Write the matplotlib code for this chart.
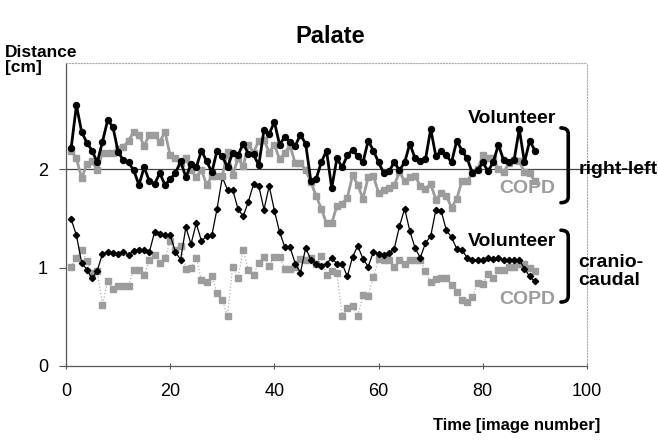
import matplotlib
matplotlib.use("Agg")
import matplotlib.pyplot as plt
import numpy as np
from matplotlib.path import Path
from matplotlib.patches import PathPatch

plt.rcParams['font.family'] = ['Liberation Sans', 'DejaVu Sans']

# image number 1..90
frames = list(range(1, 91))

vol_rl = [2.22, 2.65, 2.38, 2.27, 2.19, 2.07, 2.28, 2.50, 2.43, 2.18,
          2.09, 2.07, 1.99, 1.84, 2.02, 1.88, 1.85, 1.96, 1.84, 1.90,
          1.96, 2.08, 1.92, 2.05, 2.02, 2.19, 2.08, 1.97, 2.19, 2.13,
          2.02, 2.17, 2.14, 2.26, 2.16, 2.15, 2.04, 2.40, 2.36, 2.48,
          2.25, 2.33, 2.28, 2.24, 2.35, 2.26, 1.88, 1.90, 2.07, 2.19,
          1.81, 2.11, 2.02, 2.14, 2.20, 2.13, 2.07, 2.29, 2.19, 2.07,
          1.96, 1.98, 2.07, 1.99, 2.07, 2.26, 2.11, 2.08, 2.10, 2.41,
          2.13, 2.19, 2.14, 2.07, 2.29, 2.19, 2.11, 1.96, 1.99, 2.07,
          1.98, 2.07, 2.25, 2.09, 2.07, 2.09, 2.41, 2.07, 2.29, 2.19]

copd_rl = [2.19, 2.11, 1.91, 2.05, 2.08, 1.99, 2.17, 2.17, 2.17, 2.21,
           2.23, 2.29, 2.38, 2.35, 2.24, 2.35, 2.35, 2.28, 2.38, 2.14,
           2.11, 2.06, 2.11, 1.99, 1.92, 1.99, 1.84, 1.93, 1.93, 1.93,
           2.18, 1.94, 2.11, 2.03, 2.25, 2.17, 2.29, 2.30, 2.17, 2.25,
           2.10, 2.17, 2.24, 2.06, 2.06, 1.99, 1.87, 1.73, 1.60, 1.45,
           1.45, 1.63, 1.65, 1.71, 1.94, 1.84, 1.70, 1.92, 1.93, 1.76,
           1.79, 1.81, 1.84, 1.97, 1.88, 1.92, 1.93, 1.83, 1.80, 1.85,
           1.69, 1.76, 1.73, 1.61, 1.70, 1.88, 1.88, 1.96, 2.00, 2.14,
           2.11, 2.11, 2.00, 1.97, 2.06, 2.09, 2.08, 1.97, 1.96, 1.88]

vol_cc = [1.49, 1.33, 1.05, 0.98, 0.89, 0.97, 1.14, 1.16, 1.15, 1.14,
          1.16, 1.13, 1.17, 1.18, 1.18, 1.16, 1.36, 1.34, 1.33, 1.33,
          1.16, 1.08, 1.41, 1.24, 1.45, 1.27, 1.32, 1.33, 1.60, 1.92,
          1.79, 1.79, 1.60, 1.52, 1.67, 1.85, 1.83, 1.59, 1.83, 1.58,
          1.36, 1.21, 1.21, 1.04, 0.95, 1.20, 1.08, 1.04, 1.02, 1.04,
          1.10, 1.04, 1.04, 0.91, 1.11, 1.22, 1.09, 1.01, 1.16, 1.14,
          1.13, 1.15, 1.19, 1.42, 1.60, 1.37, 1.20, 1.10, 1.25, 1.32,
          1.59, 1.58, 1.38, 1.31, 1.19, 1.18, 1.10, 1.08, 1.08, 1.08,
          1.10, 1.09, 1.10, 1.08, 1.08, 1.08, 1.08, 0.99, 0.91, 0.86]

copd_cc = [1.01, 1.10, 1.18, 1.07, 0.95, 0.97, 0.62, 0.86, 0.78, 0.81,
           0.81, 0.81, 0.98, 0.98, 0.92, 1.08, 1.13, 1.05, 1.10, 1.27,
           1.18, 1.22, 0.99, 1.00, 1.10, 0.87, 0.85, 0.91, 0.74, 0.67,
           0.51, 1.01, 0.89, 1.18, 0.98, 0.93, 1.05, 1.11, 1.02, 1.11,
           1.11, 0.99, 0.99, 1.01, 1.09, 1.08, 1.10, 1.04, 1.12, 0.92,
           0.97, 0.95, 0.51, 0.59, 0.61, 0.51, 0.72, 0.71, 0.90, 1.09,
           1.08, 1.08, 1.01, 1.08, 1.04, 1.08, 1.08, 1.08, 0.97, 0.85,
           0.88, 0.89, 0.89, 0.82, 0.75, 0.67, 0.65, 0.70, 0.84, 0.83,
           0.94, 0.89, 0.98, 0.98, 1.01, 1.01, 1.04, 1.04, 1.00, 0.97]

gray = "#9c9c9c"

fig = plt.figure(figsize=(6.58, 4.41), dpi=100)
ax = fig.add_axes([66 / 658, 75 / 441, 521 / 658, 303 / 441])

# reference line at 2 cm, running out through the "right-left" label
ax.axhline(2, xmin=0, xmax=1.12, color="#444444", lw=0.9, clip_on=False, zorder=1)

ax.plot(frames, copd_cc, color="#b0b0b0", lw=0.9, ls=":", marker="s",
        ms=4.2, mfc=gray, mec=gray, zorder=2)
ax.plot(frames, vol_cc, color="black", lw=0.9, marker="D", ms=3.2,
        mfc="black", mec="black", zorder=3)
ax.plot(frames, copd_rl, color=gray, lw=2.0, marker="s", ms=4.2,
        mfc=gray, mec=gray, zorder=4)
ax.plot(frames, vol_rl, color="black", lw=2.0, marker="o", ms=4.3,
        mfc="black", mec="black", zorder=5)

ax.set_xlim(0, 100)
ax.set_ylim(0, 3.08)
ax.set_xticks([0, 20, 40, 60, 80, 100])
ax.set_yticks([0, 1, 2])
ax.tick_params(axis="both", labelsize=13, length=5, width=0.8, color="#555555",
               direction="out", pad=8)
ax.tick_params(axis="x", direction="inout", pad=10)

for side in ["top", "right"]:
    ax.spines[side].set_linestyle(":")
    ax.spines[side].set_color("#aaaaaa")
    ax.spines[side].set_linewidth(0.8)
for side in ["left", "bottom"]:
    ax.spines[side].set_color("#555555")
    ax.spines[side].set_linewidth(0.9)

fig.text(0.502, 0.918, "Palate", ha="center", va="center",
         fontsize=17, fontweight="bold")
fig.text(0.008, 0.865, "Distance\n[cm]", ha="left", va="center",
         fontsize=12.5, fontweight="bold", linespacing=1.0)
fig.text(0.912, 0.035, "Time [image number]", ha="right", va="center",
         fontsize=12, fontweight="bold")

# series labels
lab = dict(ha="right", va="center", fontsize=14, fontweight="bold")
ax.text(94, 2.52, "Volunteer", color="black", **lab)
ax.text(94, 1.80, "COPD", color=gray, **lab)
ax.text(94, 1.27, "Volunteer", color="black", **lab)
ax.text(94, 0.68, "COPD", color=gray, **lab)
ax.text(98.4, 2.0, "right-left", ha="left", va="center", fontsize=14,
        fontweight="bold", clip_on=False)
ax.text(98.4, 0.96, "cranio-\ncaudal", ha="left", va="center", fontsize=14,
        fontweight="bold", linespacing=1.05, clip_on=False)


def brace(x, top, bottom):
    # right-hand bracket with rounded, hooked ends
    r = 0.06
    verts = [(x - 1.4, top), (x, top), (x, top - r),
             (x, bottom + r), (x, bottom), (x - 1.4, bottom)]
    codes = [Path.MOVETO, Path.CURVE3, Path.CURVE3,
             Path.LINETO, Path.CURVE3, Path.CURVE3]
    ax.add_patch(PathPatch(Path(verts, codes), fc="none", ec="black",
                           lw=2.6, clip_on=False, capstyle="round"))


brace(96.4, 2.42, 1.66)
brace(96.4, 1.38, 0.65)

fig.savefig("out.png", dpi=100)
